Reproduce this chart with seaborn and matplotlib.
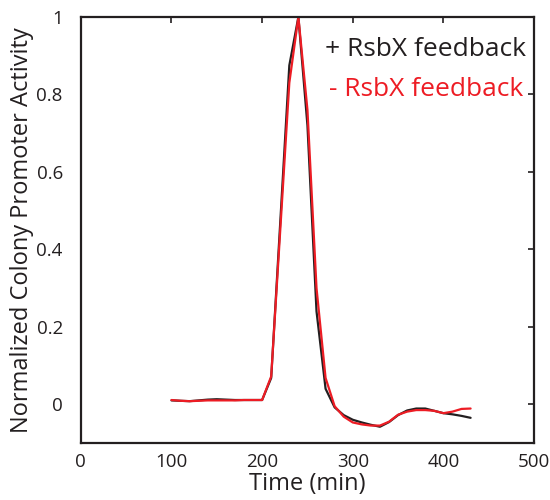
import matplotlib
matplotlib.use("Agg")
import matplotlib.pyplot as plt
import seaborn as sns
import pandas as pd
import numpy as np
from matplotlib.ticker import FuncFormatter

time = [100, 110, 120, 130, 140, 150, 160, 170, 180, 190, 200, 210, 220, 230,
        240, 250, 260, 270, 280, 290, 300, 310, 320, 330, 340, 350, 360, 370,
        380, 390, 400, 410, 420, 430]
with_fb = [0.010, 0.009, 0.008, 0.010, 0.012, 0.013, 0.012, 0.011, 0.011, 0.011,
           0.011, 0.068, 0.47, 0.875, 1.0, 0.72, 0.24, 0.04, -0.008, -0.028,
           -0.040, -0.047, -0.053, -0.058, -0.046, -0.028, -0.016, -0.011,
           -0.011, -0.017, -0.023, -0.026, -0.030, -0.035]
without_fb = [0.011, 0.009, 0.008, 0.009, 0.010, 0.010, 0.010, 0.010, 0.011, 0.011,
              0.011, 0.072, 0.45, 0.83, 1.0, 0.76, 0.30, 0.068, -0.005, -0.032,
              -0.047, -0.052, -0.055, -0.055, -0.045, -0.027, -0.019, -0.015,
              -0.015, -0.017, -0.023, -0.019, -0.012, -0.011]
series_names = ["+ RsbX feedback", "- RsbX feedback"]
colors = ["#231f20", "#ed1c24"]
x_ticks = [0, 100, 200, 300, 400, 500]
y_ticks = [0, 0.2, 0.4, 0.6, 0.8, 1.0]

df = pd.DataFrame({
    "time": time + time,
    "activity": with_fb + without_fb,
    "series": [series_names[0]] * len(time) + [series_names[1]] * len(time),
})

sns.set_style("white")
plt.rcParams["font.family"] = ["Open Sans", "DejaVu Sans"]

fig = plt.figure(figsize=(5.5, 5.0), dpi=100)
ax = fig.add_axes([0.147, 0.114, 0.824, 0.852])
sns.lineplot(data=df, x="time", y="activity", hue="series", palette=colors,
             hue_order=series_names, linewidth=1.6, ax=ax, legend=False,
             sort=False)

ax.set_xlim(0, 500)
ax.set_ylim(-0.1, 1.0)
ax.set_xticks(x_ticks)
ax.set_yticks(y_ticks)
ax.yaxis.set_major_formatter(FuncFormatter(lambda v, p: f"{v:g}"))
ax.tick_params(direction="in", length=4, width=1.2, top=True, right=True,
               labelsize=13.5, colors="#231f20")
ax.tick_params(axis="x", pad=7)
ax.tick_params(axis="y", pad=13)
for s in ax.spines.values():
    s.set_linewidth(1.6)
    s.set_color("#231f20")
ax.set_xlabel("Time (min)", fontsize=17, color="#231f20", labelpad=1)
ax.set_ylabel("Normalized Colony Promoter Activity", fontsize=17,
              color="#231f20", labelpad=2)

ax.text(0.539, 0.908, series_names[0], transform=ax.transAxes, fontsize=19,
        color=colors[0], va="baseline", ha="left")
ax.text(0.547, 0.815, series_names[1], transform=ax.transAxes, fontsize=19,
        color=colors[1], va="baseline", ha="left")

fig.savefig("out.png", dpi=100)
